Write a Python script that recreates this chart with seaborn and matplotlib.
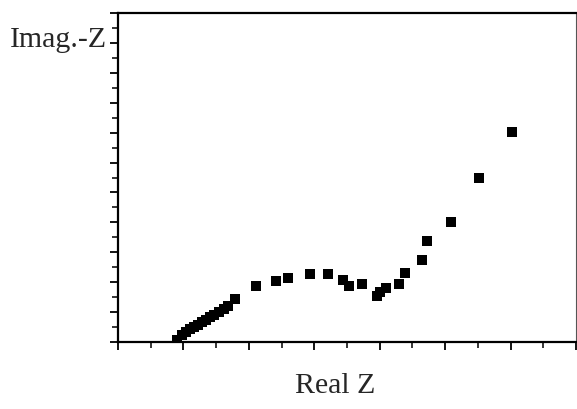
import pandas as pd
import matplotlib.pyplot as plt
import seaborn as sns
from matplotlib.ticker import MultipleLocator

# Impedance points (arbitrary units)
real_z = [1.80, 1.96, 2.08, 2.20, 2.32, 2.45, 2.57, 2.69, 2.81, 2.93, 3.09, 3.24,
          3.36, 3.58, 4.21, 4.83, 5.21, 5.87, 6.43, 6.89, 7.06, 7.47, 7.91, 8.01,
          8.18, 8.58, 8.77, 9.28, 9.46, 10.17, 11.05, 12.05]
imag_z = [0.13, 0.47, 0.67, 0.87, 1.00, 1.14, 1.34, 1.47, 1.67, 1.81, 2.01, 2.21,
          2.41, 2.88, 3.75, 4.08, 4.26, 4.53, 4.53, 4.15, 3.77, 3.91, 3.10, 3.34,
          3.59, 3.88, 4.60, 5.48, 6.76, 8.01, 10.99, 14.03]

df = pd.DataFrame({'Real': real_z, 'Imag': imag_z})

sns.set_style('ticks')
plt.rcParams['font.family'] = ['Liberation Serif', 'DejaVu Serif']

fig = plt.figure(figsize=(5.77, 4.09), dpi=100)
ax = fig.add_axes([118 / 577, 1 - 342 / 409, 458 / 577, 329 / 409])

sns.scatterplot(data=df, x='Real', y='Imag', ax=ax, marker='s', s=55,
                color='black', edgecolor='black', linewidth=0)

ax.set_xlim(0, 14)
ax.set_ylim(0, 22)
ax.xaxis.set_major_locator(MultipleLocator(2))
ax.xaxis.set_minor_locator(MultipleLocator(1))
ax.yaxis.set_major_locator(MultipleLocator(2))
ax.yaxis.set_minor_locator(MultipleLocator(1))
ax.set_xticklabels([])
ax.set_yticklabels([])
ax.tick_params(which='major', direction='out', length=6, width=1.3, color='black')
ax.tick_params(which='minor', direction='out', length=4, width=1.1, color='black')
ax.set_xlabel('')
ax.set_ylabel('')

for side in ['left', 'bottom', 'top']:
    ax.spines[side].set_linewidth(1.6)
    ax.spines[side].set_color('black')
ax.spines['right'].set_linewidth(0.8)
ax.spines['right'].set_color('#555555')

fig.text(10 / 577, 1 - 40 / 409, 'Imag.-Z', ha='left', va='center', fontsize=21.5)
fig.text(335 / 577, 1 - 386 / 409, 'Real Z', ha='center', va='center', fontsize=21.5)

fig.savefig('out.png', dpi=100)
